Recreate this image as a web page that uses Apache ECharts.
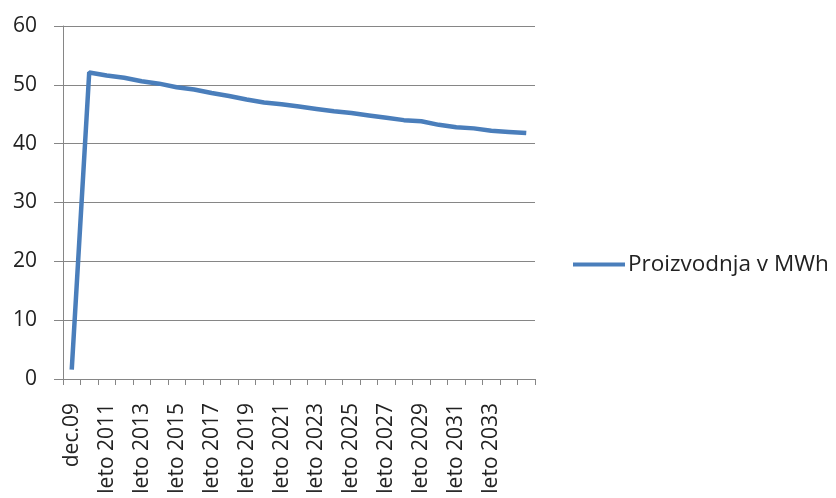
<!DOCTYPE html>
<html>
<head>
<meta charset="utf-8">
<script src="https://cdn.jsdelivr.net/npm/echarts@6/dist/echarts.min.js"></script>
<style>html,body{margin:0;padding:0;background:#fff;}#c{width:836px;height:498px;}</style>
</head>
<body>
<div id="c"></div>
<script>
const categories = ['dec.09','leto 2010','leto 2011','leto 2012','leto 2013','leto 2014','leto 2015','leto 2016','leto 2017','leto 2018','leto 2019','leto 2020','leto 2021','leto 2022','leto 2023','leto 2024','leto 2025','leto 2026','leto 2027','leto 2028','leto 2029','leto 2030','leto 2031','leto 2032','leto 2033','leto 2034','leto 2035'];
const production = [1.6,52.1,51.6,51.2,50.6,50.2,49.6,49.2,48.6,48.1,47.5,47.0,46.7,46.3,45.9,45.5,45.2,44.8,44.4,44.0,43.8,43.2,42.8,42.6,42.2,42.0,41.8];
const seriesName = 'Proizvodnja v MWh';
const yTicks = [0,10,20,30,40,50,60];

const font = '"Open Sans", "Noto Sans", sans-serif';
const chart = echarts.init(document.getElementById('c'), null, {renderer:'canvas'});
chart.setOption({
  animation:false,
  backgroundColor:'#fff',
  textStyle:{fontFamily:font},
  grid:{left:63, right:301, top:26, bottom:119, containLabel:false},
  legend:{
    data:[seriesName], orient:'vertical', left:568, top:248,
    icon:'rect', itemWidth:52, itemHeight:4, itemGap:0,
    textStyle:{fontFamily:font, fontSize:22.5, color:'#222', padding:[0,0,0,-2]}
  },
  xAxis:{
    type:'category', data:categories, boundaryGap:true,
    axisLine:{lineStyle:{color:'#868686', width:1}},
    axisTick:{show:true, length:6, lineStyle:{color:'#868686'}, interval:0},
    axisLabel:{rotate:90, interval:function(i){return i%2===0 && i<categories.length-1;}, margin:24, fontFamily:font, fontSize:21, color:'#222'},
    splitLine:{show:false}
  },
  yAxis:{
    type:'value', min:yTicks[0], max:yTicks[yTicks.length-1], interval:10,
    axisLine:{show:true, lineStyle:{color:'#868686'}},
    axisTick:{show:true, length:9, lineStyle:{color:'#868686'}},
    axisLabel:{fontFamily:font, fontSize:21, color:'#222', margin:26},
    splitLine:{lineStyle:{color:'#868686', width:1}}
  },
  series:[{
    name:seriesName, type:'line', data:production, showSymbol:false, symbol:'none',
    lineStyle:{color:'#4a7ebb', width:4.5}, itemStyle:{color:'#4a7ebb'}
  }]
});
</script>
</body>
</html>
